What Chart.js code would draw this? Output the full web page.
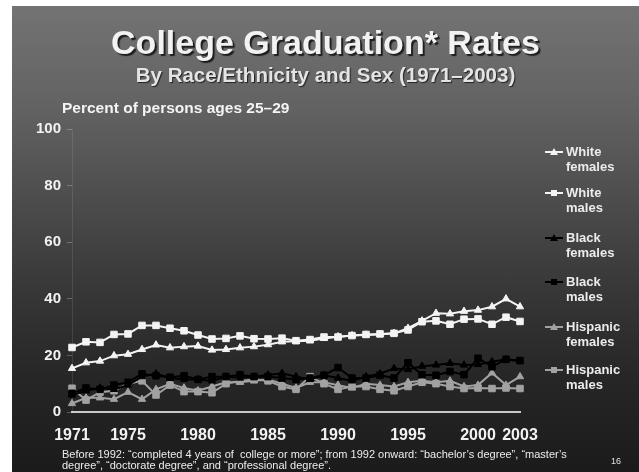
<!DOCTYPE html>
<html>
<head>
<meta charset="utf-8">
<script src="https://cdn.jsdelivr.net/npm/chart.js@4/dist/chart.umd.min.js"></script>
<style>
    html, body { margin: 0; padding: 0; background: #ffffff; }
    body { width: 639px; height: 472px; position: relative; overflow: hidden; font-family: "Liberation Sans", Arial, sans-serif; }
    .slide {
        position: absolute; left: 12px; top: 6px; width: 627px; height: 466px;
        background: linear-gradient(to bottom, #737373 0%, #626262 22%, #4c4c4c 42%, #363636 62%, #262626 80%, #1b1b1b 100%);
    }
    #chart { position: absolute; left: 0; top: 0; }
    .title {
        position: absolute; left: 12px; width: 627px; text-align: center; font-weight: bold;
        color: #f2f2f2; white-space: nowrap;
    }
    .title-main { top: 24px; font-size: 34px; line-height: 36px; text-shadow: 2px 2px 1px #1e1e1e; }
    .title-sub { top: 63px; font-size: 20.5px; line-height: 24px; color: #e4e4e4; text-shadow: 1px 1px 1px #222; }
    .y-title { position: absolute; left: 62px; top: 99px; font-size: 15.5px; font-weight: bold; color: #f4f4f4; line-height: 18px; }
    .legend { position: absolute; left: 0; top: 0; }
    .legend-item { position: absolute; left: 545px; }
    .legend-item .mark { position: absolute; left: 0; top: 6px; width: 18px; height: 2px; }
    .legend-item .dot { position: absolute; left: 6px; top: -2px; width: 6px; height: 6px; }
    .legend-item .tri { position: absolute; left: 5px; top: -3px; width: 0; height: 0;
        border-left: 4px solid transparent; border-right: 4px solid transparent; border-bottom: 7px solid; background: none !important; }
    .legend-item .text { position: absolute; left: 21px; top: 0; font-size: 13px; font-weight: bold; line-height: 14.5px; color: #ececec; white-space: nowrap; }
    .note { position: absolute; left: 62px; top: 449px; font-size: 11px; line-height: 11px; color: #ececec; white-space: nowrap; }
    .page-no { position: absolute; left: 611px; top: 456px; font-size: 9px; color: #e0e0e0; }
</style>
</head>
<body>
<div class="slide"></div>
<canvas id="chart" width="639" height="472"></canvas>
<div class="title title-main">College Graduation* Rates</div>
<div class="title title-sub">By Race/Ethnicity and Sex (1971–2003)</div>
<div class="y-title">Percent of persons ages 25–29</div>
<div class="legend" id="legend"></div>
<div class="note">Before 1992: “completed 4 years of&nbsp; college or more”; from 1992 onward: “bachelor’s degree”, “master’s<br>degree”, “doctorate degree”, and “professional degree”.</div>
<div class="page-no">16</div>

<script>
const years = [1971, 1972, 1973, 1974, 1975, 1976, 1977, 1978, 1979, 1980, 1981,
    1982, 1983, 1984, 1985, 1986, 1987, 1988, 1989, 1990, 1991, 1992,
    1993, 1994, 1995, 1996, 1997, 1998, 1999, 2000, 2001, 2002, 2003];
const yearTicks = [1971, 1975, 1980, 1985, 1990, 1995, 2000, 2003];
const percentTicks = [0, 20, 40, 60, 80, 100];

const whiteFemales = [15.4, 17.4, 18.0, 19.9, 20.4, 22.1, 23.7, 22.7, 23.1, 23.3, 21.9,
    22.1, 22.7, 23.1, 23.8, 24.8, 25.0, 25.2, 26.0, 26.6, 27.0, 27.2,
    27.4, 27.8, 29.6, 32.2, 34.9, 34.7, 35.6, 36.0, 37.2, 40.0, 37.2];
const whiteMales = [22.8, 24.8, 24.6, 27.4, 27.6, 30.6, 30.6, 29.6, 28.7, 27.2, 25.8,
    26.0, 26.9, 25.9, 25.8, 26.1, 25.2, 25.6, 26.5, 26.5, 27.0, 27.4,
    27.6, 27.8, 29.0, 31.9, 32.2, 31.0, 32.8, 32.9, 31.0, 33.5, 32.0];
const blackFemales = [6.0, 7.5, 8.5, 8.0, 9.5, 12.5, 13.5, 12.0, 11.5, 11.5, 11.0,
    12.5, 12.0, 12.5, 13.1, 13.7, 12.5, 11.5, 13.0, 12.0, 11.0, 12.5,
    13.5, 15.4, 15.0, 16.2, 16.6, 17.2, 16.6, 16.8, 17.8, 18.6, 17.8];
const blackMales = [6.6, 8.5, 8.0, 9.5, 10.5, 13.5, 12.8, 12.3, 12.8, 11.5, 12.5,
    12.5, 13.2, 12.5, 12.5, 12.0, 11.5, 12.0, 13.0, 15.7, 12.0, 12.0,
    13.0, 12.0, 17.4, 13.2, 13.0, 14.3, 13.2, 19.0, 16.0, 18.6, 18.2];
const hispanicFemales = [3.0, 5.0, 5.0, 4.5, 7.0, 4.5, 8.0, 10.0, 8.5, 7.5, 9.0,
    10.5, 10.5, 11.0, 11.5, 10.0, 8.5, 10.5, 10.5, 9.5, 8.5, 10.0,
    9.5, 9.0, 10.5, 11.0, 10.5, 11.0, 9.0, 9.5, 13.8, 9.5, 12.5];
const hispanicMales = [8.4, 4.2, 7.0, 7.5, 10.0, 11.0, 6.0, 9.5, 7.2, 7.2, 6.8,
    10.0, 11.0, 11.5, 11.0, 9.0, 8.0, 12.5, 10.0, 8.0, 9.0, 9.0,
    8.0, 7.5, 9.0, 10.5, 10.0, 9.0, 8.3, 8.5, 8.3, 8.5, 8.3];

const series = [
    { name: ["White", "females"], data: whiteFemales, color: "#f4f4f4", style: "triangle", top: 145 },
    { name: ["White", "males"], data: whiteMales, color: "#f4f4f4", style: "rect", top: 186 },
    { name: ["Black", "females"], data: blackFemales, color: "#000000", style: "triangle", top: 231 },
    { name: ["Black", "males"], data: blackMales, color: "#000000", style: "rect", top: 275 },
    { name: ["Hispanic", "females"], data: hispanicFemales, color: "#a2a2a2", style: "triangle", top: 320 },
    { name: ["Hispanic", "males"], data: hispanicMales, color: "#a2a2a2", style: "rect", top: 363 }
];

// legend on the right, two lines per entry
const legend = document.getElementById("legend");
series.forEach(s => {
    const item = document.createElement("div");
    item.className = "legend-item";
    item.style.top = s.top + "px";
    const mark = document.createElement("div");
    mark.className = "mark";
    mark.style.background = s.color;
    const dot = document.createElement("div");
    if (s.style === "rect") {
        dot.className = "dot";
        dot.style.background = s.color;
    } else {
        dot.className = "tri";
        dot.style.borderBottomColor = s.color;
    }
    mark.append(dot);
    const text = document.createElement("div");
    text.className = "text";
    text.innerHTML = s.name[0] + "<br>" + s.name[1];
    item.append(mark, text);
    legend.append(item);
});

const ctx = document.getElementById("chart").getContext("2d");
new Chart(ctx, {
    type: "line",
    data: {
        labels: years,
        datasets: series.map(s => ({
            label: s.name.join(" "),
            data: s.data,
            borderColor: s.color,
            backgroundColor: s.color,
            pointBackgroundColor: s.color,
            pointBorderColor: s.color,
            pointStyle: s.style,
            pointRadius: s.style === "rect" ? 4.6 : 4.2,
            pointBorderWidth: 1,
            borderWidth: 2,
            tension: 0,
            fill: false
        }))
    },
    options: {
        responsive: false,
        animation: false,
        layout: { padding: { left: 0, right: 119, top: 129, bottom: 0 } },
        plugins: {
            legend: { display: false },
            tooltip: { enabled: false }
        },
        scales: {
            x: {
                afterFit: scale => { scale.height = 60; },
                grid: { display: false, drawTicks: false },
                border: { display: true, color: "#c9c9c9", width: 2 },
                ticks: {
                    autoSkip: false,
                    maxRotation: 0,
                    padding: 14,
                    color: "#f2f2f2",
                    font: { family: "'Liberation Sans', Arial, sans-serif", size: 16, weight: "bold" },
                    callback: function (value) {
                        const y = years[value];
                        return yearTicks.includes(y) ? String(y) : "";
                    }
                }
            },
            y: {
                min: 0,
                max: 100,
                afterFit: scale => { scale.width = 72; },
                afterBuildTicks: scale => { scale.ticks = percentTicks.map(v => ({ value: v })); },
                grid: { display: true, drawOnChartArea: false, tickLength: 5, color: "rgba(255,255,255,0.25)" },
                border: { display: true, color: "rgba(255,255,255,0.1)", width: 1 },
                ticks: {
                    padding: 6,
                    color: "#f2f2f2",
                    font: { family: "'Liberation Sans', Arial, sans-serif", size: 15, weight: "bold" }
                }
            }
        }
    }
});
</script>
</body>
</html>
